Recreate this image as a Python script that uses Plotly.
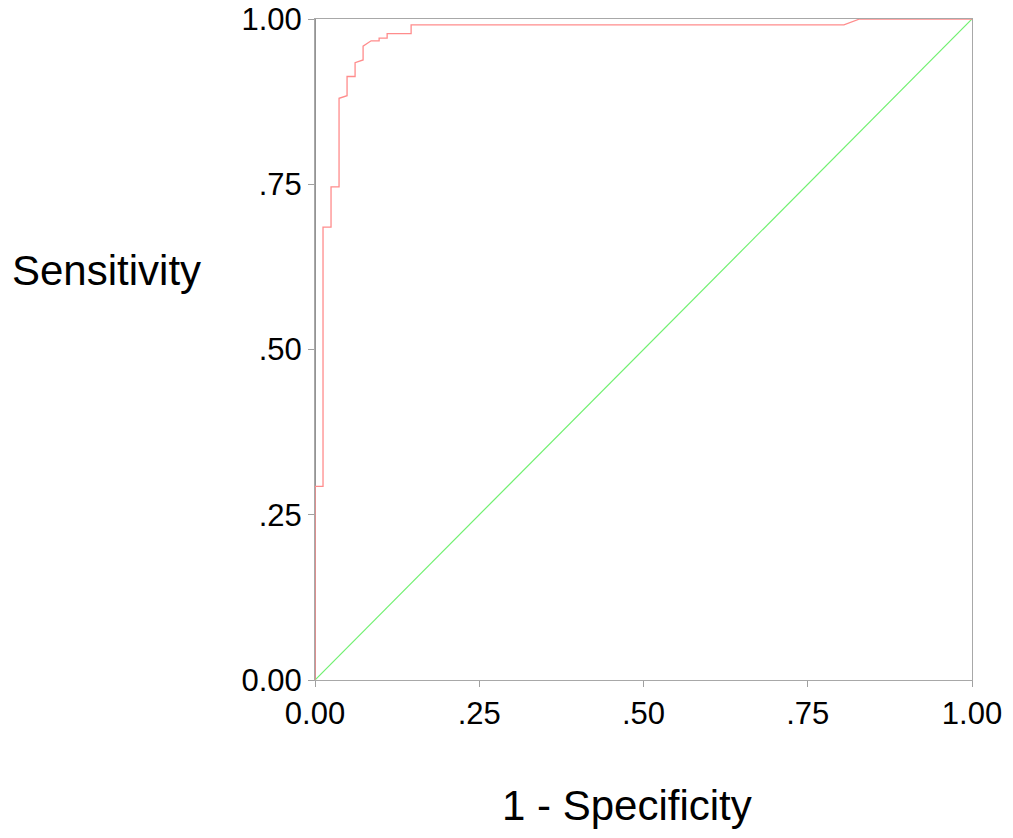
import plotly.graph_objects as go

# ROC curve vertices (1 - specificity, sensitivity)
fpr = [0.0, 0.0, 0.0122, 0.0122, 0.0244, 0.0244, 0.0366, 0.0366, 0.0488, 0.0488,
       0.0610, 0.0610, 0.0732, 0.0732, 0.0854, 0.0976, 0.0976, 0.1098, 0.1098,
       0.1463, 0.1463, 0.8050, 0.8290, 1.0]
sens = [0.0, 0.293, 0.293, 0.685, 0.685, 0.746, 0.746, 0.880, 0.884, 0.913,
        0.913, 0.934, 0.938, 0.959, 0.967, 0.967, 0.971, 0.971, 0.978,
        0.978, 0.991, 0.991, 1.0, 1.0]

# Chance reference line
ref_x = [0.0, 1.0]
ref_y = [0.0, 1.0]

tick_vals = [0, 0.25, 0.5, 0.75, 1.0]
tick_text = ["0.00", ".25", ".50", ".75", "1.00"]

FONT = "Liberation Sans, Arial, sans-serif"

fig = go.Figure()
fig.add_trace(go.Scatter(x=ref_x, y=ref_y, mode="lines",
                         line=dict(color="#70f070", width=1.2),
                         cliponaxis=False, hoverinfo="skip", showlegend=False))
fig.add_trace(go.Scatter(x=fpr, y=sens, mode="lines",
                         line=dict(color="#ff8c8c", width=1.3),
                         cliponaxis=False, showlegend=False))

axis_common = dict(
    range=[0, 1], tickmode="array", tickvals=tick_vals, ticktext=tick_text,
    showgrid=False, zeroline=False, ticks="outside", ticklen=6, tickwidth=1,
    tickcolor="#a0a0a0", tickfont=dict(family=FONT, size=31, color="black"),
    showline=True, mirror=True, linecolor="#a8a8a8", linewidth=1,
    layer="below traces", automargin=False,
)

fig.update_layout(
    width=1013, height=838,
    margin=dict(l=315, r=41, t=19, b=158, autoexpand=False),
    paper_bgcolor="white", plot_bgcolor="white",
    xaxis=dict(**axis_common),
    yaxis=dict(**axis_common),
    annotations=[
        dict(text="Sensitivity", xref="paper", yref="paper",
             x=-0.317, y=0.62, xanchor="center", yanchor="middle",
             showarrow=False, font=dict(family=FONT, size=42, color="black")),
        dict(text="1 - Specificity", xref="paper", yref="paper",
             x=0.475, y=-0.19, xanchor="center", yanchor="middle",
             showarrow=False, font=dict(family=FONT, size=42, color="black")),
    ],
)

# darker left axis line
fig.add_shape(type="line", xref="paper", yref="paper", x0=0, x1=0, y0=0, y1=1,
              line=dict(color="#707070", width=1.5), layer="below")

fig.write_html("out.html")
